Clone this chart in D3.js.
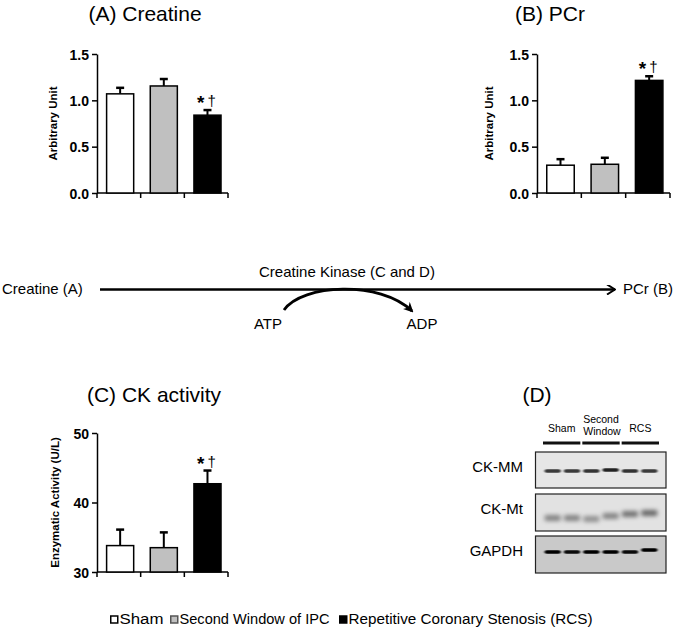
<!DOCTYPE html>
<html><head><meta charset="utf-8">
<script src="https://cdn.jsdelivr.net/npm/d3@7"></script>
<style>
body{margin:0;background:#fff;}
svg{display:block;font-family:Arial,"Liberation Sans",sans-serif;}
</style></head>
<body><svg id="c" width="675" height="631"></svg>
<script>
// ---------- data ----------
const groups = ["Sham", "Second Window of IPC", "Repetitive Coronary Stenosis (RCS)"];
const fills = ["#ffffff", "#c0c0c0", "#000000"];
const creatineMean = [1.07, 1.155, 0.84];
const creatineErr  = [0.065, 0.075, 0.055];
const pcrMean = [0.30, 0.31, 1.215];
const pcrErr  = [0.065, 0.07, 0.045];
const ckMean = [33.8, 33.5, 42.7];
const ckErr  = [2.3, 2.2, 1.9];
const ratioTicks = [0, 0.5, 1.0, 1.5];
const ckTicks = [30, 40, 50];
const sigMarks = [false, false, true];
const laneGroups = ["Sham", "Second Window", "RCS"];
const blotRows = ["CK-MM", "CK-Mt", "GAPDH"];
// band intensity per lane (6 lanes), estimated from the blot
const ckMMBands = [0.75, 0.75, 0.78, 0.85, 0.78, 0.75];
const ckMtBands = [0.42, 0.42, 0.36, 0.42, 0.5, 0.55];
const gapdhBands = [1.0, 0.95, 1.0, 1.0, 0.95, 1.0];

const svg = d3.select("#c");
const font = 'Arial,"Liberation Sans",sans-serif';

function barPanel(o) {
  const g = svg.append("g");
  const x = d3.scaleBand().domain(groups).range([o.x0, o.x1]).padding(0);
  const y = d3.scaleLinear().domain(o.domain).range([o.yBot, o.yTop]);
  const ya = g.append("g").attr("transform", `translate(${o.x0},0)`)
    .call(d3.axisLeft(y).tickValues(o.ticks).tickFormat(o.fmt).tickSize(5).tickSizeOuter(0));
  ya.select(".domain").attr("stroke", "#000").attr("stroke-width", 1.5);
  ya.selectAll(".tick line").attr("stroke", "#000").attr("stroke-width", 1.5);
  ya.selectAll(".tick text").attr("font-size", 14).attr("font-weight", "bold").attr("fill", "#000")
    .attr("font-family", font).attr("x", -8).attr("dy", "0.36em");
  g.append("line").attr("x1", o.x0).attr("x2", o.x1).attr("y1", o.yBot).attr("y2", o.yBot)
    .attr("stroke", "#000").attr("stroke-width", 1.5);
  const bounds = groups.map(d => x(d)).concat([x(groups[2]) + x.bandwidth()]);
  g.selectAll(".xt").data(bounds).enter().append("line")
    .attr("x1", d => d).attr("x2", d => d).attr("y1", o.yBot).attr("y2", o.yBot + 5)
    .attr("stroke", "#000").attr("stroke-width", 1.5);
  const bw = x.bandwidth() * 0.62, off = x.bandwidth() * 0.22;
  const data = groups.map((d, i) => ({g: d, m: o.means[i], e: o.errs[i], f: fills[i], s: sigMarks[i]}));
  const eb = g.selectAll(".eb").data(data).enter().append("g");
  eb.append("line").attr("x1", d => x(d.g) + off + bw / 2).attr("x2", d => x(d.g) + off + bw / 2)
    .attr("y1", d => y(d.m)).attr("y2", d => y(d.m + d.e)).attr("stroke", "#000").attr("stroke-width", 2);
  eb.append("line").attr("x1", d => x(d.g) + off + bw / 2 - 4).attr("x2", d => x(d.g) + off + bw / 2 + 4)
    .attr("y1", d => y(d.m + d.e)).attr("y2", d => y(d.m + d.e)).attr("stroke", "#000").attr("stroke-width", 2.5);
  g.selectAll(".bar").data(data).enter().append("rect")
    .attr("x", d => x(d.g) + off).attr("width", bw)
    .attr("y", d => y(d.m)).attr("height", d => o.yBot - y(d.m))
    .attr("fill", d => d.f).attr("stroke", "#000").attr("stroke-width", 1.5);
  const sig = g.selectAll(".sig").data(data.filter(d => d.s)).enter().append("text")
    .attr("x", d => x(d.g) + off + bw / 2 - 1).attr("y", d => y(d.m + d.e) - 4)
    .attr("text-anchor", "middle").attr("fill", "#000");
  sig.append("tspan").attr("font-size", 19).attr("font-weight", "bold").attr("dy", 3).text("*");
  sig.append("tspan").attr("font-size", 15).attr("dy", -3).attr("dx", 3).text("†");
  g.append("text").attr("transform", `translate(${o.labelX},${(o.yTop + o.yBot) / 2}) rotate(-90)`)
    .attr("text-anchor", "middle").attr("font-size", 11.5).attr("font-weight", "bold").text(o.ylabel);
  g.append("text").attr("x", o.titleX).attr("y", o.titleY).attr("text-anchor", "middle")
    .attr("font-size", 21).text(o.title);
}

barPanel({x0: 97, x1: 228, yTop: 54, yBot: 193, domain: [0, 1.5], ticks: ratioTicks, fmt: d3.format(".1f"),
  means: creatineMean, errs: creatineErr, ylabel: "Arbitrary Unit", labelX: 57, title: "(A) Creatine", titleX: 145, titleY: 21});
barPanel({x0: 537, x1: 670, yTop: 54, yBot: 193, domain: [0, 1.5], ticks: ratioTicks, fmt: d3.format(".1f"),
  means: pcrMean, errs: pcrErr, ylabel: "Arbitrary Unit", labelX: 493, title: "(B) PCr", titleX: 550, titleY: 21});
barPanel({x0: 97, x1: 228, yTop: 433, yBot: 572, domain: [30, 50], ticks: ckTicks, fmt: d3.format("d"),
  means: ckMean, errs: ckErr, ylabel: "Enzymatic Activity (U/L)", labelX: 59, title: "(C) CK activity", titleX: 154, titleY: 402});

// ---------- reaction scheme ----------
const defs = svg.append("defs");
defs.append("marker").attr("id", "open").attr("viewBox", "0 0 10 10").attr("refX", 9).attr("refY", 5)
  .attr("markerWidth", 10).attr("markerHeight", 10).attr("markerUnits", "userSpaceOnUse").attr("orient", "auto")
  .append("path").attr("d", "M1,0 L9,5 L1,10").attr("fill", "none").attr("stroke", "#000").attr("stroke-width", 2);
defs.append("marker").attr("id", "solid").attr("viewBox", "0 0 10 10").attr("refX", 8).attr("refY", 5)
  .attr("markerWidth", 10).attr("markerHeight", 10).attr("markerUnits", "userSpaceOnUse").attr("orient", "auto")
  .append("path").attr("d", "M0,0 L10,5 L0,10 L3,5 Z").attr("fill", "#000");
const flow = svg.append("g");
flow.append("line").attr("x1", 100).attr("x2", 615).attr("y1", 289.5).attr("y2", 289.5)
  .attr("stroke", "#000").attr("stroke-width", 2.5).attr("marker-end", "url(#open)");
flow.append("path").attr("d", "M284,310 C302,284 380,280 412,311").attr("fill", "none")
  .attr("stroke", "#000").attr("stroke-width", 2.8).attr("marker-end", "url(#solid)");
const ft = [
  {t: "Creatine (A)", x: 2, y: 294, a: "start"},
  {t: "PCr (B)", x: 623, y: 294, a: "start"},
  {t: "Creatine Kinase (C and D)", x: 347, y: 277, a: "middle"},
  {t: "ATP", x: 268, y: 329, a: "middle"},
  {t: "ADP", x: 422, y: 329, a: "middle"}
];
flow.selectAll("text").data(ft).enter().append("text").attr("x", d => d.x).attr("y", d => d.y)
  .attr("text-anchor", d => d.a).attr("font-size", 15).text(d => d.t);

// ---------- western blot (D) ----------
const blot = svg.append("g");
blot.append("text").attr("x", 537).attr("y", 402).attr("text-anchor", "middle").attr("font-size", 21).text("(D)");
const lane = d3.scaleBand().domain(d3.range(6)).range([543, 659]).padding(0);
const grp = d3.scaleBand().domain(laneGroups).range([543, 659]).paddingInner(0.05);
blot.selectAll(".gl").data(laneGroups).enter().append("rect")
  .attr("x", d => grp(d)).attr("width", grp.bandwidth()).attr("y", 441.5).attr("height", 3).attr("fill", "#111");
blot.append("text").attr("x", grp("Sham") + grp.bandwidth() / 2).attr("y", 432).attr("text-anchor", "middle").attr("font-size", 10.5).text("Sham");
blot.append("text").attr("x", grp("Second Window") + grp.bandwidth() / 2).attr("y", 423).attr("text-anchor", "middle").attr("font-size", 10.5).text("Second");
blot.append("text").attr("x", grp("Second Window") + grp.bandwidth() / 2 + 1).attr("y", 435).attr("text-anchor", "middle").attr("font-size", 10.5).text("Window");
blot.append("text").attr("x", grp("RCS") + grp.bandwidth() / 2).attr("y", 432).attr("text-anchor", "middle").attr("font-size", 10.5).text("RCS");

const blur = defs.append("filter").attr("id", "blur1").attr("x", "-20%").attr("y", "-100%").attr("width", "140%").attr("height", "300%");
blur.append("feGaussianBlur").attr("stdDeviation", "0.8 0.6");
const blur2 = defs.append("filter").attr("id", "blur2").attr("x", "-30%").attr("y", "-150%").attr("width", "160%").attr("height", "400%");
blur2.append("feGaussianBlur").attr("stdDeviation", "2 2.2");

const rows = [
  {name: blotRows[0], y0: 452, y1: 488, bg: "#e6e6e6", bandY: 471, bands: ckMMBands, h: 3.5, f: "blur1", ly: 472, shift: [0,0,0,-1,0,0]},
  {name: blotRows[1], y0: 494, y1: 531, bg: "#e2e2e2", bandY: 518, bands: ckMtBands, h: 6, f: "blur2", ly: 514, shift: [0,0,1,-2,-4,-5]},
  {name: blotRows[2], y0: 536, y1: 573, bg: "#c9c9c9", bandY: 552, bands: gapdhBands, h: 3.5, f: "blur1", ly: 556, shift: [0,0,0,0,0,-2]}
];
rows.forEach(r => {
  blot.append("rect").attr("x", 535.5).attr("y", r.y0).attr("width", 130.5).attr("height", r.y1 - r.y0)
    .attr("fill", r.bg).attr("stroke", "#222").attr("stroke-width", 1.2);
  blot.append("text").attr("x", 523).attr("y", r.ly).attr("text-anchor", "end").attr("font-size", 15).text(r.name);
  blot.selectAll(null).data(r.bands).enter().append("rect")
    .attr("x", (d, i) => lane(i) + 1.5).attr("width", lane.bandwidth() - 3)
    .attr("y", (d, i) => r.bandY + r.shift[i] - r.h / 2).attr("height", r.h).attr("rx", 2)
    .attr("fill", "#000").attr("fill-opacity", d => d).attr("filter", `url(#${r.f})`);
});

// ---------- legend ----------
const leg = svg.append("g");
const legX = [110, 170, 339];
const legW = [44, 150, 244];
groups.forEach((gname, i) => {
  leg.append("rect").attr("x", legX[i] + 0.75).attr("y", 616).attr("width", 7).attr("height", 7)
    .attr("fill", fills[i]).attr("stroke", i === 1 ? "#555" : "#000").attr("stroke-width", 1.5);
  leg.append("text").attr("x", legX[i] + 9.5).attr("y", 624).attr("font-size", 14)
    .attr("textLength", legW[i]).attr("lengthAdjust", "spacingAndGlyphs").text(gname);
});
</script></body></html>
